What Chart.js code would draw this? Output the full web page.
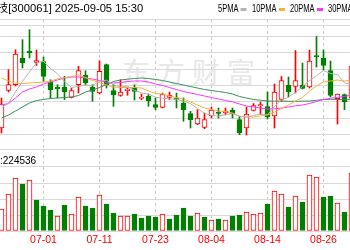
<!DOCTYPE html>
<html>
<head>
<meta charset="utf-8">
<script src="https://cdn.jsdelivr.net/npm/chart.js@4.4.1/dist/chart.umd.min.js"></script>
<style>
  html, body { margin: 0; padding: 0; background: #fff; }
  #wrap { position: relative; width: 350px; height: 250px; overflow: hidden; font-family: 'Liberation Sans', 'Noto Sans CJK SC', sans-serif; }
  #wrap canvas { position: absolute; left: 0; }
  #main { top: 0; }
  #vol { top: 149px; }
  .txt { position: absolute; white-space: nowrap; color: #000; line-height: 1; }
  #title { left: -3px; top: 3px; font-size: 11.2px; }
  .lg { top: 4px; font-size: 10px; transform: scaleX(0.75); transform-origin: left top; }
  .lg i { display: inline-block; width: 8px; height: 3px; vertical-align: middle; margin-left: 3px; }
  #volLabel { left: 0; top: 156px; font-size: 10px; }
  #mark { left: 122px; top: 57px; font-size: 28px; color: #e8e8e8; letter-spacing: 7px; font-family: 'Noto Sans CJK SC', sans-serif; }
</style>
</head>
<body>
<div id="wrap">
  <div class="txt" id="mark">东方财富</div>
  <canvas id="main" width="350" height="149"></canvas>
  <canvas id="vol" width="350" height="101"></canvas>
  <div class="txt" id="title">技[300061] 2025-09-05 15:30</div>
  <div class="txt lg" style="left:218px">5PMA<i style="background:#b4b4b4"></i></div>
  <div class="txt lg" style="left:252px">10PMA<i style="background:#fbb03b"></i></div>
  <div class="txt lg" style="left:290px">20PMA<i style="background:#ff33ff"></i></div>
  <div class="txt lg" style="left:328px">30PMA<i style="background:#3a8f5c"></i></div>
  <div class="txt" id="volLabel">:224536</div>
</div>
<script>
'use strict'

/* global Chart */

const dates = ['06-23', '06-24', '06-25', '06-26', '06-27', '06-30', '07-01', '07-02', '07-03', '07-04',
  '07-07', '07-08', '07-09', '07-10', '07-11', '07-14', '07-15', '07-16', '07-17', '07-18',
  '07-21', '07-22', '07-23', '07-24', '07-25', '07-28', '07-29', '07-30', '07-31', '08-01',
  '08-04', '08-05', '08-06', '08-07', '08-08', '08-11', '08-12', '08-13', '08-14', '08-15',
  '08-18', '08-19', '08-20', '08-21', '08-22', '08-25', '08-26', '08-27', '08-28', '08-29', '09-01']
const tickIdx = [7, 15, 23, 31, 39, 47]

const open = [7.20, 10.97, 11.53, 14.20, 14.87, 13.75, 13.85, 11.77, 11.30, 11.30,
  10.27, 11.53, 12.47, 11.27, 10.70, 13.53, 10.93, 10.47, 10.93, 11.30,
  10.17, 10.37, 9.53, 9.27, 10.27, 10.20, 9.70, 8.63, 7.60, 7.27,
  8.40, 8.80, 8.70, 9.00, 8.03, 7.20, 8.95, 9.40, 9.35, 8.40,
  10.05, 11.50, 11.35, 11.50, 11.30, 14.45, 14.20, 12.95, 10.13, 10.53, 10.20]
const high = [10.20, 13.03, 15.03, 16.03, 17.03, 15.00, 14.30, 12.03, 11.53, 12.37,
  11.20, 13.37, 12.93, 11.53, 13.93, 13.60, 11.53, 12.03, 11.20, 11.50,
  10.60, 10.60, 10.20, 10.70, 10.80, 10.70, 10.20, 8.87, 9.03, 8.70,
  9.30, 9.20, 9.20, 9.20, 8.37, 9.30, 9.65, 9.80, 10.80, 11.60,
  12.35, 12.30, 14.95, 13.70, 15.00, 16.35, 15.00, 13.90, 10.60, 10.60, 13.70]
const low = [6.70, 10.80, 11.40, 13.20, 14.20, 13.45, 11.85, 10.20, 10.20, 10.03,
  10.20, 10.70, 11.50, 9.87, 10.60, 11.20, 9.37, 10.37, 10.47, 10.00,
  10.03, 9.37, 9.03, 9.20, 10.03, 9.20, 7.87, 7.20, 7.53, 7.13,
  8.20, 8.20, 8.50, 8.20, 6.53, 6.50, 8.90, 8.53, 8.10, 7.20,
  9.85, 10.30, 10.70, 11.10, 11.20, 13.30, 13.00, 10.30, 7.60, 9.03, 10.00]
const close = [9.60, 11.53, 14.60, 13.70, 14.70, 13.95, 12.35, 11.03, 11.13, 10.80,
  10.93, 12.93, 11.70, 10.87, 12.87, 11.53, 10.53, 10.80, 11.10, 10.85,
  10.27, 9.93, 9.27, 10.60, 10.47, 10.07, 9.03, 8.03, 8.20, 8.03,
  9.00, 8.65, 8.90, 8.60, 6.70, 8.60, 9.45, 9.55, 8.30, 10.80,
  11.95, 10.80, 11.93, 11.17, 13.90, 14.30, 13.45, 10.45, 10.60, 9.80, 13.40]

const ma5 = [9.20, 9.70, 10.80, 11.85, 12.83, 13.70, 13.86, 13.15, 12.63, 11.85,
  11.25, 11.36, 11.50, 11.45, 11.86, 11.98, 11.50, 11.32, 11.37, 10.96,
  10.71, 10.59, 10.28, 10.18, 10.11, 10.07, 9.89, 9.64, 9.16, 8.67,
  8.46, 8.38, 8.56, 8.64, 8.37, 8.29, 8.45, 8.58, 8.52, 9.34,
  10.01, 10.28, 10.76, 11.33, 11.95, 12.42, 12.95, 12.65, 12.54, 11.72, 11.54]
const ma10 = [12.20, 11.90, 11.70, 11.65, 11.70, 11.75, 11.80, 11.90, 12.10, 12.25,
  12.35, 12.50, 12.25, 11.95, 11.75, 11.50, 11.30, 11.25, 11.25, 11.25,
  11.20, 10.90, 10.65, 10.60, 10.40, 10.25, 10.10, 9.80, 9.50, 9.20,
  9.05, 8.90, 8.85, 8.70, 8.40, 8.30, 8.30, 8.40, 8.50, 8.80,
  9.15, 9.50, 9.90, 10.25, 10.90, 11.40, 11.80, 11.90, 12.00, 11.90, 12.00]
const ma20 = [9.50, 9.65, 10.20, 10.80, 11.10, 11.30, 11.60, 11.80, 12.00, 12.20,
  12.30, 12.30, 12.20, 12.10, 11.95, 11.75, 11.70, 11.75, 11.85, 11.90,
  11.90, 11.80, 11.60, 11.45, 11.25, 11.05, 10.85, 10.70, 10.55, 10.40,
  10.25, 10.10, 9.95, 9.82, 9.60, 9.40, 9.30, 9.20, 9.10, 9.12,
  9.20, 9.30, 9.42, 9.50, 9.65, 9.85, 10.05, 10.17, 10.27, 10.35, 10.50]
const ma30 = [8.20, 8.50, 8.90, 9.30, 9.70, 9.95, 10.05, 10.15, 10.20, 10.25,
  10.30, 10.45, 10.80, 11.00, 11.25, 11.55, 11.85, 12.00, 12.08, 12.15,
  12.20, 12.15, 12.05, 11.95, 11.80, 11.65, 11.50, 11.35, 11.20, 11.05,
  10.95, 10.85, 10.75, 10.60, 10.35, 10.20, 10.05, 9.98, 9.90, 9.88,
  9.90, 9.87, 9.87, 9.88, 9.90, 9.97, 10.05, 10.07, 10.06, 10.03, 10.10]

const volume = [176000, 296000, 424000, 376000, 408000, 248000, 200000, 168000, 120000, 208000,
  136000, 272000, 200000, 184000, 288000, 216000, 144000, 120000, 120000, 136000,
  104000, 120000, 112000, 136000, 96000, 128000, 184000, 120000, 144000, 112000,
  88000, 96000, 88000, 120000, 128000, 152000, 136000, 144000, 216000, 320000,
  296000, 192000, 280000, 232000, 448000, 432000, 272000, 280000, 224000, 152000, 464000]

// horizontal grid positions (prices / volumes)
const priceGrid = [18.1, 17.45, 16.35, 14.75, 13.1, 11.5, 9.85, 8.2, 6.6]
const volGrid = [0, 128000, 256000, 384000, 512000, 656000]

const RED = '#ff0000'
const GREEN = '#008000'

const xs = dates.map((d, i) => i + 1)
const up = close.map((c, i) => c >= open[i])
const volUp = close.map((c, i) => i === 0 ? c >= open[0] : c >= close[i - 1])

const xMin = 1 - 1.49 / 7
const xMax = xMin + 50

function xScale (labels) {
  return {
    type: 'linear',
    min: xMin,
    max: xMax,
    offset: false,
    afterBuildTicks: (s) => { s.ticks = tickIdx.map(v => ({ value: v })) },
    afterFit: (s) => { s.height = labels ? 19 : 0 },
    grid: { color: '#c8c8c8', drawTicks: false, offset: false },
    border: { display: false, dash: [3, 3] },
    ticks: {
      display: labels,
      autoSkip: false,
      maxRotation: 0,
      padding: 3,
      color: RED,
      font: { family: 'Liberation Sans', size: 10.5 },
      callback: (v) => dates[v - 1]
    }
  }
}

function yScale (min, max, grid) {
  return {
    min,
    max,
    afterBuildTicks: (s) => { s.ticks = grid.map(v => ({ value: v })) },
    afterFit: (s) => { s.width = 0 },
    grid: { color: '#d9d9d9', drawTicks: false },
    border: { display: false },
    ticks: { display: false }
  }
}

function maLine (label, values, color) {
  return {
    type: 'line',
    label,
    data: xs.map((x, i) => ({ x, y: values[i] })),
    borderColor: color,
    borderWidth: 1,
    pointRadius: 0,
    tension: 0,
    order: 0
  }
}

const common = {
  responsive: false,
  animation: false,
  devicePixelRatio: 1,
  events: [],
  plugins: { legend: { display: false }, tooltip: { enabled: false } }
}

new Chart(document.getElementById('main'), {
  type: 'bar',
  data: {
    datasets: [{
      label: 'wick',
      data: xs.map((x, i) => ({ x, y: [low[i], high[i]] })),
      backgroundColor: up.map(u => u ? RED : GREEN),
      borderWidth: 0,
      barThickness: 1,
      grouped: false,
      order: 2
    }, {
      label: 'body',
      data: xs.map((x, i) => ({ x, y: [open[i], close[i]] })),
      backgroundColor: up.map(u => u ? '#ffffff' : GREEN),
      borderColor: up.map(u => u ? RED : GREEN),
      borderWidth: 1,
      borderSkipped: false,
      barThickness: 5,
      minBarLength: 1,
      grouped: false,
      order: 1
    },
    maLine('MA5', ma5, '#b4b4b4'),
    maLine('MA10', ma10, '#fbb03b'),
    maLine('MA20', ma20, '#ff33ff'),
    maLine('MA30', ma30, '#3a8f5c')]
  },
  options: {
    ...common,
    layout: { padding: { top: 19, left: 0, right: 0, bottom: 0 } },
    scales: {
      x: xScale(false),
      y: yScale(5.1, 18.1, priceGrid)
    }
  }
})

new Chart(document.getElementById('vol'), {
  type: 'bar',
  data: {
    datasets: [{
      label: 'VOL',
      data: xs.map((x, i) => ({ x, y: volume[i] })),
      backgroundColor: volUp.map(u => u ? '#ffffff' : GREEN),
      borderColor: volUp.map(u => u ? RED : GREEN),
      borderWidth: 1,
      borderSkipped: false,
      barThickness: 5,
      grouped: false
    }]
  },
  options: {
    ...common,
    layout: { padding: 0 },
    scales: {
      x: xScale(true),
      y: yScale(0, 656000, volGrid)
    }
  }
})
</script>
</body>
</html>
